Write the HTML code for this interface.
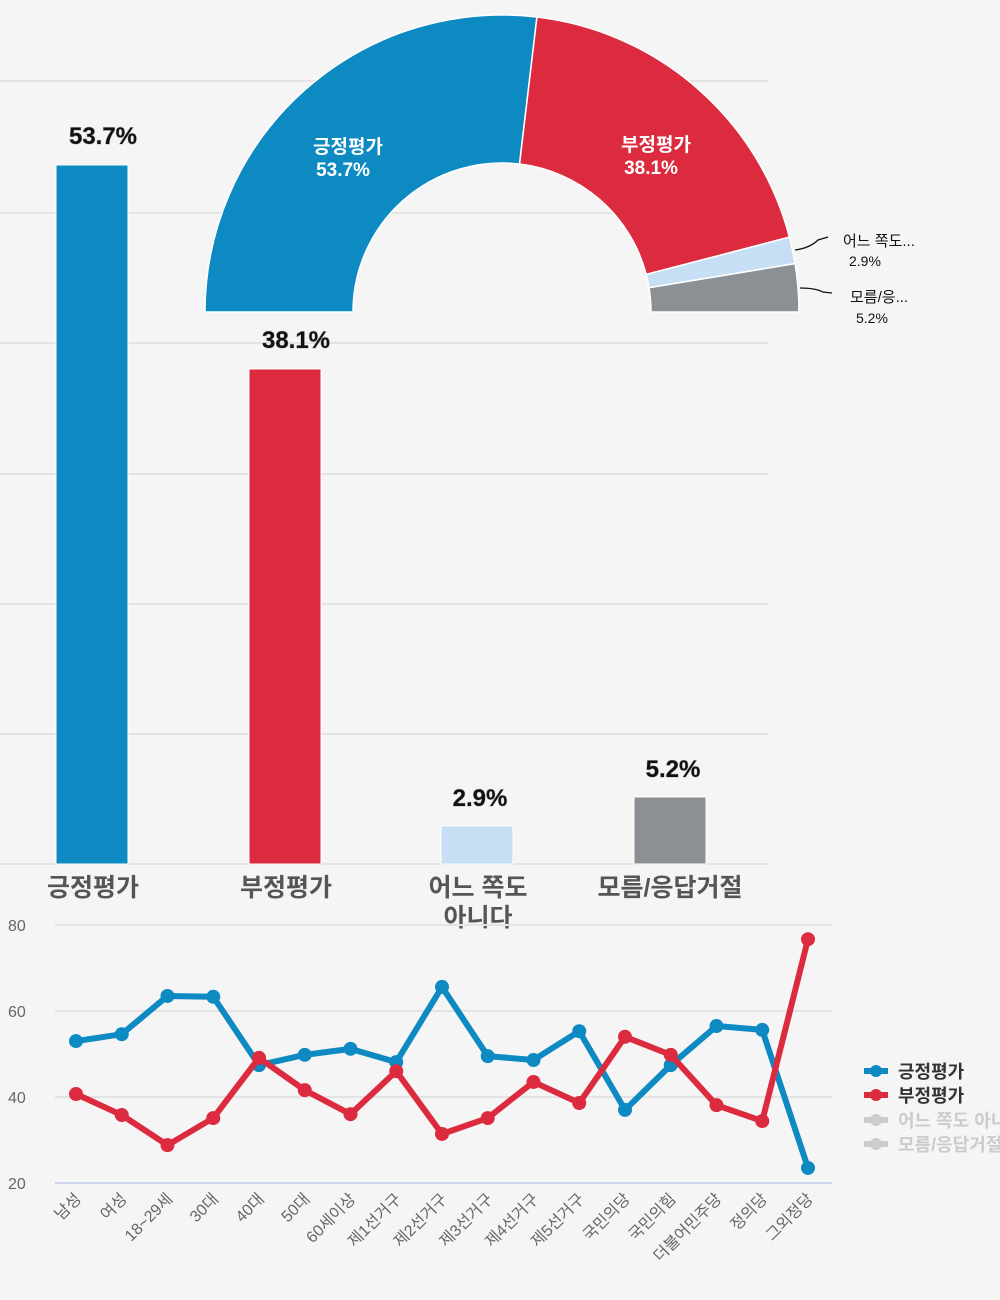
<!DOCTYPE html>
<html><head><meta charset="utf-8"><style>
html,body{margin:0;padding:0;background:#f5f5f5;}
svg{display:block;font-family:"Liberation Sans","Noto Sans CJK KR",sans-serif;}
</style></head><body>
<svg id="s" width="1000" height="1300" viewBox="0 0 1000 1300" xmlns="http://www.w3.org/2000/svg">
<rect width="1000" height="1300" fill="#f5f5f5"/>
<g stroke="#e3e3e3" stroke-width="2">
<line x1="0" y1="81" x2="768" y2="81"/><line x1="0" y1="213" x2="768" y2="213"/>
<line x1="0" y1="343" x2="768" y2="343"/><line x1="0" y1="474" x2="768" y2="474"/>
<line x1="0" y1="604" x2="768" y2="604"/><line x1="0" y1="734" x2="768" y2="734"/>
<line x1="0" y1="864" x2="768" y2="864"/>
</g>
<rect x="56" y="165" width="72" height="699" fill="#0e8ac3" stroke="#fff" stroke-width="1"/>
<rect x="249" y="369" width="72" height="495" fill="#dc2b3e" stroke="#fff" stroke-width="1"/>
<rect x="441" y="826" width="72" height="38" fill="#c6dff4" stroke="#fff" stroke-width="1"/>
<rect x="634" y="797" width="72" height="67" fill="#8b9094" stroke="#fff" stroke-width="1"/>
<g font-size="24" font-weight="bold" fill="#111" text-anchor="middle" style="paint-order:stroke" stroke="#bbb" stroke-width="1">
<text x="103" y="144">53.7%</text><text x="296" y="348">38.1%</text>
<text x="480" y="806">2.9%</text><text x="673" y="777">5.2%</text>
</g>
<g font-size="25" font-weight="bold" fill="#555" text-anchor="middle">
<text x="93" y="896">긍정평가</text><text x="286" y="896">부정평가</text>
<text x="478" y="896">어느 쪽도</text><text x="478" y="926">아니다</text>
<text x="670" y="896">모름/응답거절</text>
</g>
<g id="donut" stroke="#fff" stroke-width="1.5"></g>
<g font-size="19" font-weight="bold" fill="#fff" text-anchor="middle">
<text x="348" y="153">긍정평가</text><text x="343" y="176">53.7%</text>
<text x="656" y="151">부정평가</text><text x="651" y="174">38.1%</text>
</g>
<path d="M795 250 Q810 248 818 240 L828 237" fill="none" stroke="#111" stroke-width="1.3"/>
<path d="M800 288 Q815 288 823 292 L832 293" fill="none" stroke="#111" stroke-width="1.3"/>
<g font-size="15" fill="#111">
<text x="843" y="246">어느 쪽도...</text><text x="849" y="266" font-size="14">2.9%</text>
<text x="850" y="302">모름/응...</text><text x="856" y="323" font-size="14">5.2%</text>
</g>
<g stroke="#e3e3e3" stroke-width="2">
<line x1="55" y1="925" x2="832" y2="925"/><line x1="55" y1="1011" x2="832" y2="1011"/><line x1="55" y1="1097" x2="832" y2="1097"/>
</g>
<line x1="55" y1="1183" x2="832" y2="1183" stroke="#ccd6eb" stroke-width="2"/>
<g font-size="16" fill="#666" font-family="Liberation Sans, sans-serif">
<text x="8" y="931">80</text><text x="8" y="1017">60</text><text x="8" y="1103">40</text><text x="8" y="1189">20</text>
</g>
<g id="line"></g>
<g id="xl" font-size="16" fill="#666" text-anchor="end"></g>
<g font-size="18" font-weight="bold">
<line x1="864" y1="1071" x2="888" y2="1071" stroke="#0e8ac3" stroke-width="6"/><circle cx="876" cy="1071" r="6" fill="#0e8ac3"/>
<text x="898" y="1078" fill="#333">긍정평가</text>
<line x1="864" y1="1095" x2="888" y2="1095" stroke="#dc2b3e" stroke-width="6"/><circle cx="876" cy="1095" r="6" fill="#dc2b3e"/>
<text x="898" y="1102" fill="#333">부정평가</text>
<line x1="864" y1="1120" x2="888" y2="1120" stroke="#ccc" stroke-width="6"/><circle cx="876" cy="1120" r="6" fill="#ccc"/>
<text x="898" y="1127" fill="#ccc">어느 쪽도 아니다</text>
<line x1="864" y1="1144" x2="888" y2="1144" stroke="#ccc" stroke-width="6"/><circle cx="876" cy="1144" r="6" fill="#ccc"/>
<text x="898" y="1151" fill="#ccc">모름/응답거절</text>
</g>
</svg>
<script>
var NS="http://www.w3.org/2000/svg";
function el(t,a,p){var e=document.createElementNS(NS,t);for(var k in a)e.setAttribute(k,a[k]);p.appendChild(e);return e;}
var cx=502,cy=312,R=297,r=149,vals=[53.7,38.1,2.9,5.2],cols=["#0e8ac3","#dc2b3e","#c6dff4","#8b9094"],a=180,d=document.getElementById("donut");
function pt(rad,deg){var t=deg*Math.PI/180;return (cx+rad*Math.cos(t)).toFixed(2)+" "+(cy-rad*Math.sin(t)).toFixed(2);}
vals.forEach(function(v,i){var b=a-180*v/99.9;if(i==3)b=0;
el("path",{d:"M"+pt(R,a)+" A"+R+" "+R+" 0 0 1 "+pt(R,b)+" L"+pt(r,b)+" A"+r+" "+r+" 0 0 0 "+pt(r,a)+" Z",fill:cols[i]},d);a=b;});
var blue=[53,54.6,63.5,63.3,47.4,49.8,51.2,48.1,65.6,49.5,48.6,55.3,37,47.4,56.5,55.6,23.5];
var red=[40.7,35.8,28.8,35.1,49.1,41.6,36,46,31.4,35.1,43.5,38.6,54,49.8,38.1,34.4,76.7];
var labs=["남성","여성","18~29세","30대","40대","50대","60세이상","제1선거구","제2선거구","제3선거구","제4선거구","제5선거구","국민의당","국민의힘","더불어민주당","정의당","그외정당"];
var g=document.getElementById("line"),xl=document.getElementById("xl");
function X(i){return 76+i*45.75;}function Y(v){return 925+(80-v)*4.3;}
[[blue,"#0e8ac3"],[red,"#dc2b3e"]].forEach(function(s){
el("polyline",{points:s[0].map(function(v,i){return X(i)+","+Y(v)}).join(" "),fill:"none",stroke:s[1],"stroke-width":6,"stroke-linejoin":"round"},g);
s[0].forEach(function(v,i){el("circle",{cx:X(i),cy:Y(v),r:7,fill:s[1]},g);});});
labs.forEach(function(l,i){var t=el("text",{x:X(i)+6,y:1200,transform:"rotate(-45 "+(X(i)+6)+" 1200)"},xl);t.textContent=l;});
</script>
</body></html>
